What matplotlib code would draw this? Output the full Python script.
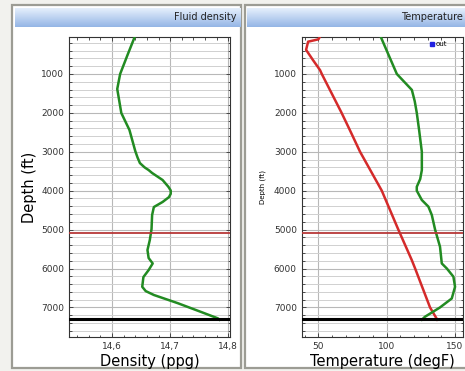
import numpy as np
import matplotlib
matplotlib.use('Agg')
import matplotlib.pyplot as plt
from matplotlib.patches import Rectangle
from matplotlib.ticker import MultipleLocator, FixedLocator

# === DATA ===
dens_depth = [50, 500, 1000, 1386, 2003, 2440, 2980, 3150, 3290, 3400, 3470, 3545, 3725,
              3900, 3995, 4080, 4165, 4290, 4420, 4625, 4985, 5270, 5525, 5730, 5870, 6040,
              6220, 6470, 6580, 6680, 6890, 7115, 7280, 7316]
dens_val = [14.639, 14.627, 14.614, 14.609, 14.616, 14.630, 14.640, 14.644, 14.648, 14.656,
            14.663, 14.669, 14.687, 14.697, 14.701, 14.701, 14.698, 14.687, 14.672, 14.669,
            14.668, 14.665, 14.661, 14.663, 14.670, 14.663, 14.654, 14.652, 14.658, 14.672,
            14.713, 14.753, 14.782, 14.785]

temp_out_depth = [50, 1000, 1410, 1700, 2000, 2440, 3000, 3470, 3700, 3900, 4000, 4240,
                  4410, 4625, 5000, 5440, 5870, 6000, 6210, 6470, 6770, 7000, 7240, 7316]
temp_out_val = [95.7, 107.4, 118.4, 120.5, 122.0, 123.7, 125.7, 125.7, 124.5, 122.0, 122.0,
                125.7, 130.5, 133.0, 135.4, 139.0, 140.3, 144.0, 148.8, 150.0, 147.6, 139.0,
                128.0, 125.7]

temp_in_depth = [50, 110, 170, 380, 640, 900, 1000, 2000, 2440, 3000, 4000, 5000, 5780,
                 6000, 7000, 7316]
temp_in_val = [51.0, 50.0, 42.5, 41.0, 46.0, 51.2, 52.5, 67.0, 73.0, 80.5, 96.4, 108.5,
               118.3, 120.8, 131.7, 137.0]

marker_depths = [5100, 7300]          # red / black horizontal lines
dens_ticks = [14.6, 14.7, 14.8]
dens_labels = ['14,6', '14,7', '14,8']
temp_ticks = [50, 100, 150]
depth_ticks = [1000, 2000, 3000, 4000, 5000, 6000, 7000]

# === FIGURE ===
W, H = 465, 371
fig = plt.figure(figsize=(W / 100, H / 100), dpi=100, facecolor='#f2f2ee')


def px(x, y, w, h):
    # pixel box (top-left origin) -> figure fraction
    return [x / W, 1 - (y + h) / H, w / W, h / H]


# panels
for (x0, x1) in [(12, 241), (245, 470)]:
    fig.patches.append(Rectangle((x0 / W, 1 - 368 / H), (x1 - x0) / W, 363 / H,
                                 transform=fig.transFigure, facecolor='white',
                                 edgecolor='#9c9c94', lw=1.6, zorder=-5))

# header bars with gradient
grad = np.linspace(0, 1, 64).reshape(-1, 1)
top_c = np.array([0.90, 0.94, 0.99])
bot_c = np.array([0.58, 0.71, 0.90])
img = top_c[None, None, :] * (1 - grad[:, :, None]) + bot_c[None, None, :] * grad[:, :, None]
for (x0, x1, title, tx) in [(15, 240, 'Fluid density', 236), (247, 470, 'Temperature', 463)]:
    hax = fig.add_axes(px(x0, 8, x1 - x0, 19))
    hax.imshow(img, aspect='auto', extent=[0, 1, 0, 1])
    hax.set_axis_off()
    fig.text(tx / W, 1 - 17.5 / H, title, ha='right', va='center', fontsize=7, color='#222222')


def style_axes(ax):
    ax.set_ylim(7760, 50)
    ax.yaxis.set_major_locator(FixedLocator(depth_ticks))
    ax.yaxis.set_minor_locator(MultipleLocator(200))
    ax.grid(which='major', axis='both', color='#b8b8b8', lw=0.8)
    ax.grid(which='minor', axis='y', color='#d0d0d0', lw=0.7)
    ax.tick_params(which='both', direction='in', top=True, right=True, colors='#333333',
                   labelsize=6.5, length=3, width=0.6)
    ax.tick_params(which='minor', length=1.8)
    for s in ax.spines.values():
        s.set_color('#333333')
        s.set_linewidth(0.8)
    for d, c, lw in zip(marker_depths, ['#b83838', 'black'], [1.3, 2.2]):
        ax.axhline(d, color=c, lw=lw, zorder=4)


# left: fluid density
ax1 = fig.add_axes(px(69, 37, 161, 300))
ax1.plot(dens_val, dens_depth, color='#228b22', lw=1.8, zorder=3, solid_joinstyle='round')
ax1.set_xlim(14.526, 14.803)
ax1.set_xticks(dens_ticks)
ax1.set_xticklabels(dens_labels)
ax1.xaxis.set_minor_locator(MultipleLocator(0.02))
style_axes(ax1)
ax1.set_xlabel('Density (ppg)', fontsize=10.5, labelpad=2)
ax1.set_ylabel('Depth (ft)', fontsize=10.5, labelpad=3)

# right: temperature
ax2 = fig.add_axes(px(301.7, 37, 161, 300))
ax2.plot(temp_in_val, temp_in_depth, color='#d42a2a', lw=1.8, zorder=3, solid_joinstyle='round')
ax2.plot(temp_out_val, temp_out_depth, color='#228b22', lw=1.8, zorder=3, solid_joinstyle='round')
ax2.set_xlim(37.8, 155.6)
ax2.set_xticks(temp_ticks)
ax2.xaxis.set_minor_locator(MultipleLocator(10))
style_axes(ax2)
ax2.set_xlabel('Temperature (degF)', fontsize=10.5, labelpad=2)
ax2.set_ylabel('Depth (ft)', fontsize=5, labelpad=6)
leg_marker, = ax2.plot([], [], 's', color='#2020e0', ms=3)
ax2.legend(handles=[leg_marker], labels=['out'], loc='upper right', fontsize=5,
           frameon=False, handlelength=0.6, handletextpad=0.3, borderpad=0.1,
           bbox_to_anchor=(0.93, 1.0))

fig.savefig('out.png', dpi=100, facecolor=fig.get_facecolor())
